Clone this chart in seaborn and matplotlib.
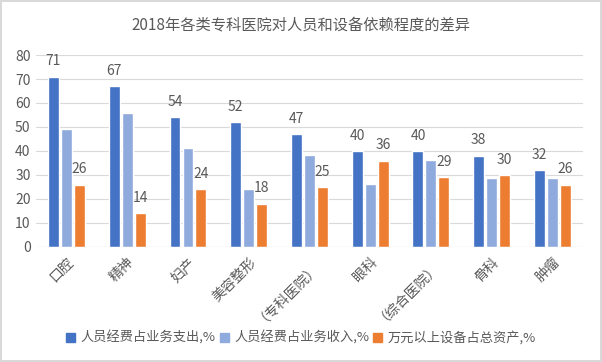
import pandas as pd
import matplotlib.pyplot as plt
import seaborn as sns

# 数据
categories = ['口腔', '精神', '妇产', '美容整形', '（专科医院）', '眼科', '（综合医院）', '骨科', '肿瘤']
expense_share = [71, 67, 54, 52, 47, 40, 40, 38, 32]
income_share = [49.3, 55.8, 41.2, 24.3, 38.4, 26.3, 36.3, 28.9, 28.9]
equipment_share = [26, 14, 24, 18, 25, 36, 29, 30, 26]
series_names = ['人员经费占业务支出,%', '人员经费占业务收入,%', '万元以上设备占总资产,%']
colors = ['#4472C4', '#8FAADC', '#ED7D31']

df = pd.DataFrame({
    'cat': categories * 3,
    'val': expense_share + income_share + equipment_share,
    'serie': [s for s in series_names for _ in categories],
})

sns.set_theme(style='white')
plt.rcParams['font.family'] = ['Noto Sans CJK SC', 'DejaVu Sans']
text_color = '#595959'

fig = plt.figure(figsize=(6.02, 3.62), dpi=100, facecolor='white',
                 edgecolor='#d9d9d9', linewidth=1.5)
ax = fig.add_axes([0.06, 0.318, 0.908, 0.53])

sns.barplot(data=df, x='cat', y='val', hue='serie', palette=colors,
            width=0.64, gap=0.16, ax=ax, legend=False, saturation=1)

ax.bar_label(ax.containers[0], fmt='%d', padding=6, fontsize=10, color=text_color)
ax.bar_label(ax.containers[2], fmt='%d', padding=6, fontsize=10, color=text_color)

ax.set_ylim(0, 80)
ax.set_yticks(range(0, 81, 10))
ax.yaxis.grid(True, color='#d9d9d9', linewidth=0.8)
ax.set_axisbelow(True)
ax.set_xlim(-0.5, len(categories) - 0.5)
sns.despine(ax=ax, left=True, bottom=True, top=True, right=True)
ax.axhline(0, color='#d9d9d9', linewidth=0.8)
ax.set_xlabel('')
ax.set_ylabel('')
ax.tick_params(axis='y', labelsize=10, labelcolor=text_color, length=0, pad=4)
ax.tick_params(axis='x', labelsize=10, labelcolor=text_color, length=0, pad=6)
for lab in ax.get_xticklabels():
    lab.set_rotation(45)
    lab.set_ha('right')
    lab.set_rotation_mode('anchor')

fig.suptitle('2018年各类专科医院对人员和设备依赖程度的差异', y=0.955,
             fontsize=11, color=text_color)

handles = [plt.Rectangle((0, 0), 1, 1, color=c) for c in colors]
fig.legend(handles, series_names, loc='center', bbox_to_anchor=(0.5, 0.066),
           ncol=3, frameon=False, fontsize=9.5, labelcolor=text_color,
           handlelength=0.7, handleheight=0.7, handletextpad=0.4, columnspacing=0.3)

fig.savefig('out.png', dpi=100, facecolor='white', edgecolor=fig.get_edgecolor())
